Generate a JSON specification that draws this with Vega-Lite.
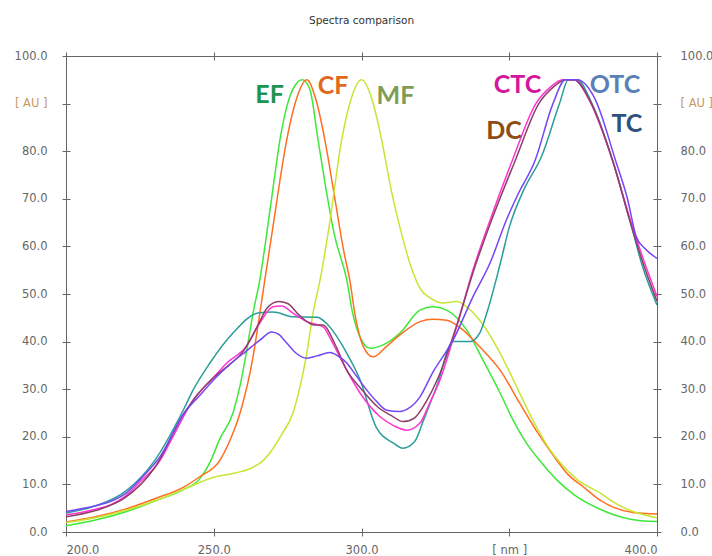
{
"$schema": "https://vega.github.io/schema/vega-lite/v6.json",
"width": 591, "height": 476,
"autosize": {"type": "none"},
"padding": {"left": 66, "top": 56, "right": 55, "bottom": 24},
"background": "white",
"title": {"text": "Spectra comparison", "fontSize": 10.5, "font": "DejaVu Sans", "fontWeight": "normal", "color": "#333", "anchor": "middle", "frame": "group", "offset": 24},
"config": {
  "view": {"stroke": "#666", "strokeWidth": 1},
  "axis": {"grid": false, "domain": false, "ticks": true, "tickSize": 8, "offset": -4, "tickColor": "#666", "labelFont": "DejaVu Sans", "labelFontSize": 11.5, "labelColor": "#666", "title": null}
},
"datasets": {
"spectra": [
{"s":"EF","nm":200,"a":1.3},{"s":"EF","nm":210,"a":2.5},{"s":"EF","nm":220,"a":4.2},{"s":"EF","nm":230,"a":6.5},{"s":"EF","nm":240,"a":9},{"s":"EF","nm":245,"a":11},{"s":"EF","nm":249,"a":15},{"s":"EF","nm":252,"a":19.5},{"s":"EF","nm":256.5,"a":25},{"s":"EF","nm":259,"a":31},{"s":"EF","nm":261,"a":37.6},{"s":"EF","nm":263.3,"a":46},{"s":"EF","nm":265.6,"a":53},{"s":"EF","nm":268,"a":63},{"s":"EF","nm":270,"a":72},{"s":"EF","nm":272.4,"a":82.4},{"s":"EF","nm":275,"a":90},{"s":"EF","nm":277.5,"a":93.8},{"s":"EF","nm":280,"a":95},{"s":"EF","nm":282.5,"a":93},{"s":"EF","nm":285.3,"a":82.4},{"s":"EF","nm":288,"a":72},{"s":"EF","nm":291,"a":62},{"s":"EF","nm":295,"a":53},{"s":"EF","nm":297,"a":46},{"s":"EF","nm":299.5,"a":41},{"s":"EF","nm":302.9,"a":38.6},{"s":"EF","nm":307.3,"a":39.3},{"s":"EF","nm":313,"a":41.8},{"s":"EF","nm":319.8,"a":46.6},{"s":"EF","nm":324.2,"a":47.3},{"s":"EF","nm":328.8,"a":46.6},{"s":"EF","nm":335.6,"a":42.4},{"s":"EF","nm":341.2,"a":36},{"s":"EF","nm":346.9,"a":29.2},{"s":"EF","nm":351.3,"a":23.5},{"s":"EF","nm":356,"a":18.5},{"s":"EF","nm":361,"a":14.5},{"s":"EF","nm":366,"a":11},{"s":"EF","nm":372,"a":7.8},{"s":"EF","nm":380,"a":5},{"s":"EF","nm":391,"a":2.7},{"s":"EF","nm":400,"a":2.2},
{"s":"CF","nm":200,"a":2.1},{"s":"CF","nm":210,"a":3.2},{"s":"CF","nm":220,"a":4.8},{"s":"CF","nm":230,"a":7},{"s":"CF","nm":240,"a":9.5},{"s":"CF","nm":245,"a":11.5},{"s":"CF","nm":252,"a":15},{"s":"CF","nm":256,"a":20},{"s":"CF","nm":258.9,"a":25},{"s":"CF","nm":263.3,"a":36.8},{"s":"CF","nm":265.6,"a":46},{"s":"CF","nm":267.3,"a":53},{"s":"CF","nm":270,"a":64},{"s":"CF","nm":274.7,"a":82.4},{"s":"CF","nm":278,"a":91},{"s":"CF","nm":281.5,"a":95},{"s":"CF","nm":284.5,"a":91},{"s":"CF","nm":287.6,"a":82.4},{"s":"CF","nm":291,"a":70},{"s":"CF","nm":294,"a":59},{"s":"CF","nm":296,"a":53},{"s":"CF","nm":298,"a":45},{"s":"CF","nm":300.6,"a":39},{"s":"CF","nm":303.9,"a":36.8},{"s":"CF","nm":308.5,"a":39},{"s":"CF","nm":313,"a":41.4},{"s":"CF","nm":319.8,"a":44.2},{"s":"CF","nm":324.2,"a":44.7},{"s":"CF","nm":328.8,"a":44.5},{"s":"CF","nm":334.4,"a":42.4},{"s":"CF","nm":340,"a":38.9},{"s":"CF","nm":346.9,"a":34},{"s":"CF","nm":353.6,"a":27},{"s":"CF","nm":360,"a":20.5},{"s":"CF","nm":365,"a":16},{"s":"CF","nm":370,"a":12},{"s":"CF","nm":375,"a":9.5},{"s":"CF","nm":380.7,"a":6.7},{"s":"CF","nm":391.9,"a":4.1},{"s":"CF","nm":400,"a":3.8},
{"s":"MF","nm":200,"a":2},{"s":"MF","nm":210,"a":3},{"s":"MF","nm":220,"a":4.5},{"s":"MF","nm":230,"a":6.5},{"s":"MF","nm":240,"a":9},{"s":"MF","nm":250,"a":11.5},{"s":"MF","nm":258,"a":12.5},{"s":"MF","nm":263,"a":13.5},{"s":"MF","nm":266.7,"a":15},{"s":"MF","nm":270,"a":17.5},{"s":"MF","nm":273,"a":20.5},{"s":"MF","nm":276.8,"a":25},{"s":"MF","nm":279,"a":30},{"s":"MF","nm":281.5,"a":37.6},{"s":"MF","nm":283.6,"a":46},{"s":"MF","nm":286,"a":53},{"s":"MF","nm":289,"a":64},{"s":"MF","nm":293.3,"a":82.4},{"s":"MF","nm":296.5,"a":91},{"s":"MF","nm":300,"a":95},{"s":"MF","nm":303.5,"a":91},{"s":"MF","nm":306.8,"a":82.4},{"s":"MF","nm":310,"a":72},{"s":"MF","nm":313,"a":64},{"s":"MF","nm":317.5,"a":54.4},{"s":"MF","nm":320,"a":51},{"s":"MF","nm":323.2,"a":49.2},{"s":"MF","nm":327.6,"a":48.1},{"s":"MF","nm":332.2,"a":48.4},{"s":"MF","nm":335.6,"a":47.3},{"s":"MF","nm":340,"a":44.5},{"s":"MF","nm":346.9,"a":37.6},{"s":"MF","nm":352.5,"a":30.5},{"s":"MF","nm":358,"a":23.5},{"s":"MF","nm":363,"a":18},{"s":"MF","nm":368,"a":14},{"s":"MF","nm":373,"a":11},{"s":"MF","nm":380.7,"a":8.2},{"s":"MF","nm":386,"a":6},{"s":"MF","nm":391.9,"a":4.3},{"s":"MF","nm":400,"a":3},
{"s":"TC","nm":200,"a":4},{"s":"TC","nm":210,"a":5.5},{"s":"TC","nm":220,"a":8.5},{"s":"TC","nm":230,"a":15},{"s":"TC","nm":240,"a":26},{"s":"TC","nm":243,"a":29.8},{"s":"TC","nm":248.7,"a":35.5},{"s":"TC","nm":256.5,"a":41.8},{"s":"TC","nm":265,"a":46},{"s":"TC","nm":270,"a":46.2},{"s":"TC","nm":277,"a":45.2},{"s":"TC","nm":285,"a":45.1},{"s":"TC","nm":288,"a":43.9},{"s":"TC","nm":295,"a":37.6},{"s":"TC","nm":299.5,"a":32},{"s":"TC","nm":305,"a":22},{"s":"TC","nm":310.7,"a":18.7},{"s":"TC","nm":314,"a":17.6},{"s":"TC","nm":318,"a":19},{"s":"TC","nm":321,"a":23.5},{"s":"TC","nm":325.4,"a":30.5},{"s":"TC","nm":331,"a":40},{"s":"TC","nm":336.7,"a":40},{"s":"TC","nm":340,"a":41.8},{"s":"TC","nm":342.4,"a":46},{"s":"TC","nm":347,"a":56.5},{"s":"TC","nm":350,"a":64},{"s":"TC","nm":355,"a":72},{"s":"TC","nm":361,"a":79},{"s":"TC","nm":367,"a":90},{"s":"TC","nm":370,"a":95},{"s":"TC","nm":373,"a":95},{"s":"TC","nm":378,"a":90},{"s":"TC","nm":385,"a":78},{"s":"TC","nm":391,"a":65},{"s":"TC","nm":395,"a":56},{"s":"TC","nm":400,"a":47.7},
{"s":"CTC","nm":200,"a":3.6},{"s":"CTC","nm":210,"a":4.8},{"s":"CTC","nm":215,"a":5.7},{"s":"CTC","nm":220,"a":7.5},{"s":"CTC","nm":225,"a":10.5},{"s":"CTC","nm":231.8,"a":15},{"s":"CTC","nm":237,"a":21},{"s":"CTC","nm":243,"a":27.7},{"s":"CTC","nm":250,"a":32.5},{"s":"CTC","nm":254.4,"a":35.5},{"s":"CTC","nm":261,"a":39},{"s":"CTC","nm":265.6,"a":43.9},{"s":"CTC","nm":270,"a":47.3},{"s":"CTC","nm":273,"a":47.5},{"s":"CTC","nm":276.8,"a":46},{"s":"CTC","nm":281.5,"a":44.2},{"s":"CTC","nm":287,"a":43.1},{"s":"CTC","nm":290,"a":40},{"s":"CTC","nm":293.7,"a":35.5},{"s":"CTC","nm":299.5,"a":29.2},{"s":"CTC","nm":306.3,"a":24.2},{"s":"CTC","nm":311,"a":22.3},{"s":"CTC","nm":315.3,"a":21.4},{"s":"CTC","nm":319.8,"a":22.9},{"s":"CTC","nm":323,"a":27},{"s":"CTC","nm":326.6,"a":32},{"s":"CTC","nm":332.2,"a":43.1},{"s":"CTC","nm":337.7,"a":55},{"s":"CTC","nm":343.5,"a":65.5},{"s":"CTC","nm":351,"a":78},{"s":"CTC","nm":359,"a":90},{"s":"CTC","nm":364,"a":93.5},{"s":"CTC","nm":368,"a":95},{"s":"CTC","nm":372,"a":95},{"s":"CTC","nm":377,"a":90.8},{"s":"CTC","nm":385,"a":78},{"s":"CTC","nm":391,"a":65.5},{"s":"CTC","nm":395,"a":58},{"s":"CTC","nm":400,"a":49.5},
{"s":"DC","nm":200,"a":3.2},{"s":"DC","nm":210,"a":4.5},{"s":"DC","nm":220,"a":7.2},{"s":"DC","nm":230,"a":13.5},{"s":"DC","nm":240,"a":25},{"s":"DC","nm":250,"a":32.5},{"s":"DC","nm":255,"a":35},{"s":"DC","nm":260,"a":38},{"s":"DC","nm":265,"a":43.5},{"s":"DC","nm":268,"a":47},{"s":"DC","nm":272,"a":48.4},{"s":"DC","nm":275,"a":48},{"s":"DC","nm":279,"a":45.5},{"s":"DC","nm":284,"a":43.5},{"s":"DC","nm":287,"a":43.5},{"s":"DC","nm":291,"a":39.5},{"s":"DC","nm":295,"a":34},{"s":"DC","nm":300,"a":30},{"s":"DC","nm":306,"a":26},{"s":"DC","nm":310,"a":24.5},{"s":"DC","nm":314,"a":23.2},{"s":"DC","nm":318,"a":24},{"s":"DC","nm":322,"a":27.5},{"s":"DC","nm":326,"a":32.5},{"s":"DC","nm":332,"a":43},{"s":"DC","nm":338,"a":55},{"s":"DC","nm":344,"a":65.5},{"s":"DC","nm":352,"a":78},{"s":"DC","nm":360,"a":90},{"s":"DC","nm":365,"a":93.5},{"s":"DC","nm":369,"a":95},{"s":"DC","nm":372,"a":95},{"s":"DC","nm":377,"a":91},{"s":"DC","nm":385,"a":78},{"s":"DC","nm":391,"a":65},{"s":"DC","nm":395,"a":57},{"s":"DC","nm":400,"a":48.5},
{"s":"OTC","nm":200,"a":4.3},{"s":"OTC","nm":210,"a":5.5},{"s":"OTC","nm":215,"a":6.4},{"s":"OTC","nm":220,"a":8},{"s":"OTC","nm":225,"a":11},{"s":"OTC","nm":232,"a":16},{"s":"OTC","nm":240,"a":25},{"s":"OTC","nm":245,"a":28.5},{"s":"OTC","nm":250,"a":32},{"s":"OTC","nm":256,"a":35.5},{"s":"OTC","nm":261,"a":38},{"s":"OTC","nm":265.6,"a":40.3},{"s":"OTC","nm":269.6,"a":42},{"s":"OTC","nm":272,"a":41.5},{"s":"OTC","nm":274.7,"a":39.7},{"s":"OTC","nm":278,"a":37.5},{"s":"OTC","nm":281.5,"a":36.5},{"s":"OTC","nm":285,"a":37},{"s":"OTC","nm":289.3,"a":37.7},{"s":"OTC","nm":292,"a":37},{"s":"OTC","nm":295,"a":35.5},{"s":"OTC","nm":298,"a":33},{"s":"OTC","nm":301.8,"a":29.8},{"s":"OTC","nm":305,"a":27.5},{"s":"OTC","nm":308.5,"a":25.6},{"s":"OTC","nm":313,"a":25.3},{"s":"OTC","nm":316,"a":26},{"s":"OTC","nm":319.8,"a":28.4},{"s":"OTC","nm":324,"a":33.4},{"s":"OTC","nm":331,"a":40.3},{"s":"OTC","nm":337.7,"a":49.4},{"s":"OTC","nm":343.5,"a":56.5},{"s":"OTC","nm":349,"a":65.5},{"s":"OTC","nm":353,"a":71},{"s":"OTC","nm":358.7,"a":78},{"s":"OTC","nm":364.8,"a":90},{"s":"OTC","nm":369,"a":95},{"s":"OTC","nm":373,"a":95},{"s":"OTC","nm":379,"a":91},{"s":"OTC","nm":386,"a":78},{"s":"OTC","nm":390,"a":70},{"s":"OTC","nm":393,"a":62},{"s":"OTC","nm":396,"a":59.5},{"s":"OTC","nm":400,"a":57.5}
],
"labels": [
{"label":"EF","nm":268.9,"a":91.8},
{"label":"CF","nm":290.4,"a":93.7},
{"label":"MF","nm":311.5,"a":91.6},
{"label":"CTC","nm":352.8,"a":93.9},
{"label":"OTC","nm":385.8,"a":93.9},
{"label":"TC","nm":389.8,"a":85.7},
{"label":"DC","nm":348.2,"a":84.2}
]
},
"layer": [
{
  "data": {"name": "spectra"},
  "mark": {"type": "line", "strokeWidth": 1.5, "interpolate": "monotone", "clip": true},
  "encoding": {
    "x": {"field": "nm", "type": "quantitative", "scale": {"domain": [200, 400], "nice": false, "zero": false},
          "axis": {"orient": "bottom", "values": [200, 250, 300, 350, 400], "labelExpr": "datum.value == 350 ? '[ nm ]' : format(datum.value, '.1f')", "labelPadding": 8}},
    "y": {"field": "a", "type": "quantitative", "scale": {"domain": [0, 100], "nice": false},
          "axis": {"orient": "left", "values": [0, 10, 20, 30, 40, 50, 60, 70, 80, 90, 100], "labelExpr": "datum.value == 90 ? '[ AU ]' : format(datum.value, '.1f')", "labelPadding": 15,
                   "labelColor": {"condition": {"test": "datum.value == 90", "value": "#c8975e"}, "value": "#666"}}},
    "color": {"field": "s", "type": "nominal",
              "scale": {"domain": ["EF", "CF", "MF", "TC", "CTC", "DC", "OTC"], "range": ["#3ee83a", "#ff6e21", "#c6e634", "#2a9d9a", "#ff35d2", "#8d3f68", "#7446f5"]},
              "legend": null}
  }
},
{
  "data": {"name": "labels"},
  "mark": {"type": "text", "font": "Lato", "fontSize": 25, "fontWeight": "bold", "align": "center", "baseline": "middle"},
  "encoding": {
    "x": {"field": "nm", "type": "quantitative", "scale": {"domain": [200, 400], "nice": false, "zero": false},
          "axis": {"orient": "top", "values": [200, 250, 300, 350, 400], "labels": false}},
    "y": {"field": "a", "type": "quantitative", "scale": {"domain": [0, 100], "nice": false},
          "axis": {"orient": "right", "values": [0, 10, 20, 30, 40, 50, 60, 70, 80, 90, 100], "labelExpr": "datum.value == 90 ? '[ AU ]' : format(datum.value, '.1f')", "labelPadding": 19,
                   "labelColor": {"condition": {"test": "datum.value == 90", "value": "#c8975e"}, "value": "#666"}}},
    "text": {"field": "label"},
    "color": {"field": "label", "type": "nominal",
              "scale": {"domain": ["EF", "CF", "MF", "CTC", "OTC", "TC", "DC"], "range": ["#1d9450", "#e0691f", "#7f9c55", "#d4169e", "#5b80b8", "#2d527f", "#8e4c16"]},
              "legend": null}
  }
}
],
"resolve": {"scale": {"x": "independent", "y": "independent", "color": "independent"}, "axis": {"x": "independent", "y": "independent"}}
}
